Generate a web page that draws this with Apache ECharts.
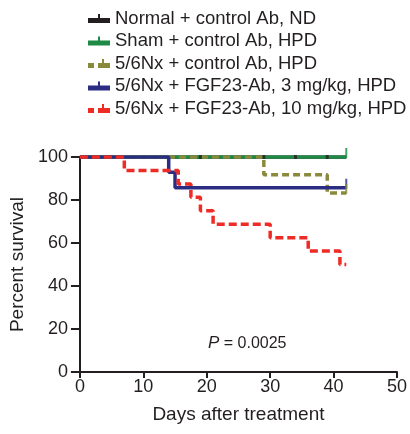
<!DOCTYPE html>
<html>
<head>
<meta charset="utf-8">
<script src="https://cdn.jsdelivr.net/npm/echarts@6/dist/echarts.min.js"></script>
<style>
  html, body { margin: 0; padding: 0; background: #fff; }
  #main { width: 410px; height: 434px; }
</style>
</head>
<body>
<div id="main"></div>
<script>
// group names (legend)
var groupNames = [
    'Normal + control Ab, ND',
    'Sham + control Ab, HPD',
    '5/6Nx + control Ab, HPD',
    '5/6Nx + FGF23-Ab, 3 mg/kg, HPD',
    '5/6Nx + FGF23-Ab, 10 mg/kg, HPD'
];
var groupColors = ['#231f20', '#1e8a45', '#8a8a3c', '#2b2d82', '#ee2b24'];

// survival curves [day, percent]
var normalCurve = [[0, 100], [42, 100]];
var shamCurve = [[0, 100], [42, 100]];
var controlCurve = [[0, 100], [29, 91.7], [39, 83.3], [42, 83.3]];
var fgf3Curve = [[0, 100], [14, 92.9], [15, 85.7], [42, 85.7]];
var fgf10Curve = [[0, 100], [7, 93.75], [15.5, 87.5], [17.5, 81.25], [19, 75], [21, 68.75], [30, 62.5], [36, 56.25], [41, 50], [42, 50]];

// censor ticks
var normalCensor = [[19, 100], [29, 100], [34, 100], [39, 100]];
var endCensor = [[42, 100], [42, 85.7], [42, 83.3]];

var xTicks = [0, 10, 20, 30, 40, 50];
var yTicks = [0, 20, 40, 60, 80, 100];

var font = 'Liberation Sans, Arial, Helvetica, sans-serif';
var chart = echarts.init(document.getElementById('main'));

// legend icons: thick bar with a little censor tick
var solidIcon = 'path://M0,5 H22 V10 H0 Z M10,1 H12 V5 H10 Z';
var dashIcon = 'path://M0,5 H6 V10 H0 Z M10,5 H22 V10 H10 Z M14,1 H16 V5 H14 Z';

function curve(i, data, dash) {
    return {
        name: groupNames[i],
        type: 'line',
        step: 'end',
        data: data,
        symbol: 'none',
        z: 2 + i,
        color: groupColors[i],
        lineStyle: { color: groupColors[i], width: 3.5, type: dash || 'solid', cap: 'butt' },
        animation: false
    };
}

var option = {
    animation: false,
    legend: {
        orient: 'vertical',
        left: 83,
        top: 4,
        itemWidth: 22,
        itemHeight: 10,
        itemGap: 3.5,
        data: groupNames.map(function (n, i) {
            return { name: n, icon: (i == 2 || i == 4) ? dashIcon : solidIcon };
        }),
        textStyle: { fontFamily: font, fontSize: 18.5, color: '#231f20' }
    },
    grid: { left: 76, right: 10, top: 157, bottom: 62, containLabel: false },
    xAxis: {
        type: 'value',
        min: 0, max: 50, interval: 10,
        name: 'Days after treatment',
        nameLocation: 'middle',
        nameGap: 33,
        nameTextStyle: { fontFamily: font, fontSize: 19, color: '#231f20' },
        axisLine: { lineStyle: { color: '#231f20', width: 2 } },
        axisTick: { length: 6, lineStyle: { color: '#231f20', width: 2 } },
        axisLabel: { fontFamily: font, fontSize: 18, color: '#231f20', margin: 6 },
        splitLine: { show: false }
    },
    yAxis: {
        type: 'value',
        min: 0, max: 100, interval: 20,
        name: 'Percent survival',
        nameLocation: 'middle',
        nameGap: 50,
        nameTextStyle: { fontFamily: font, fontSize: 19, color: '#231f20' },
        axisLine: { show: true, lineStyle: { color: '#231f20', width: 2 } },
        axisTick: { show: true, length: 9, lineStyle: { color: '#231f20', width: 2 } },
        axisLabel: { fontFamily: font, fontSize: 18, color: '#231f20', margin: 12 },
        splitLine: { show: false }
    },
    graphic: [{
        type: 'text',
        left: 208,
        top: 335,
        style: {
            text: '{i|P} = 0.0025',
            fontFamily: font,
            fontSize: 16,
            fill: '#231f20',
            rich: { i: { fontStyle: 'italic', fontFamily: font, fontSize: 17 } }
        }
    }],
    series: [
        curve(0, normalCurve),
        curve(1, shamCurve),
        curve(2, controlCurve, [7, 4]),
        curve(3, fgf3Curve),
        curve(4, fgf10Curve, [8, 4]),
        {
            type: 'scatter',
            data: normalCensor,
            symbol: 'rect',
            symbolSize: [3, 4],
            itemStyle: { color: '#231f20' },
            z: 8,
            silent: true
        },
        {
            type: 'scatter',
            data: endCensor,
            symbol: 'rect',
            symbolSize: [2, 10],
            symbolOffset: [0, -4],
            itemStyle: {
                color: function (p) { return [groupColors[1], groupColors[3], groupColors[2]][p.dataIndex]; }
            },
            z: 9,
            silent: true
        }
    ]
};
chart.setOption(option);
</script>
</body>
</html>
